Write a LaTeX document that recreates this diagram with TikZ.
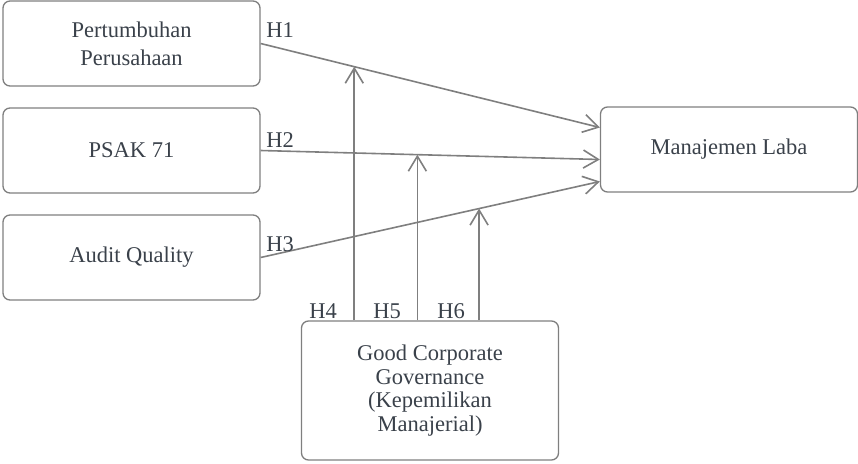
\documentclass[tikz,border=0pt]{standalone}
\usepackage{fontspec}
\setmainfont{Liberation Serif}
\usetikzlibrary{arrows.meta}
\definecolor{linegray}{HTML}{7F7F7F}
\definecolor{textgray}{HTML}{3A414A}
\tikzset{
    varbox/.style={draw=linegray, line width=1.3pt, rounded corners=7pt, text=textgray,
        align=center, inner sep=0pt, minimum width=257pt, minimum height=85pt,
        font=\fontsize{22.5}{28}\selectfont},
    hlabel/.style={text=textgray, font=\fontsize{22.5}{26}\selectfont},
    link/.style={draw=linegray, line width=1.6pt, -{Straight Barb[length=15pt,width=18pt,line width=1.6pt]}}
}

\begin{document}
\begin{tikzpicture}[x=1pt, y=-1pt]
    \useasboundingbox (0,0) rectangle (858,463);
    \node[varbox] (PP) at (131.5, 43.5) {Pertumbuhan\\Perusahaan};
    \node[varbox] (PSAK) at (131.5, 150.5) {PSAK 71};
    \node[varbox] (AQ) at (131.5, 257.5) {Audit Quality};
    \node[varbox] (ML) at (729, 149.5) {Manajemen Laba};
    \node[varbox, minimum height=139pt, font=\fontsize{22.5}{23.5}\selectfont] (GCG) at (430, 390.5)
        {Good Corporate\\Governance\\(Kepemilikan\\Manajerial)};
    % direct effects
    \draw[link] (PP.east) -- coordinate[pos=0.276] (m1) ([yshift=22pt]ML.west);
    \draw[link] (PSAK.east) -- coordinate[pos=0.462] (m2) ([yshift=-10pt]ML.west);
    \draw[link] (AQ.east) -- coordinate[pos=0.644] (m3) ([yshift=-32pt]ML.west);
    % moderation
    \draw[link] (m1 |- GCG.north) -- (m1);
    \draw[link] (m2 |- GCG.north) -- (m2);
    \draw[link] (m3 |- GCG.north) -- (m3);
    \node[hlabel] (H1) at (280, 30) {H1};
    \node[hlabel] (H2) at (280, 140) {H2};
    \node[hlabel] (H3) at (280, 244) {H3};
    \node[hlabel] (H4) at (323, 311) {H4};
    \node[hlabel] (H5) at (387, 311) {H5};
    \node[hlabel] (H6) at (451, 311) {H6};
\end{tikzpicture}
\end{document}
